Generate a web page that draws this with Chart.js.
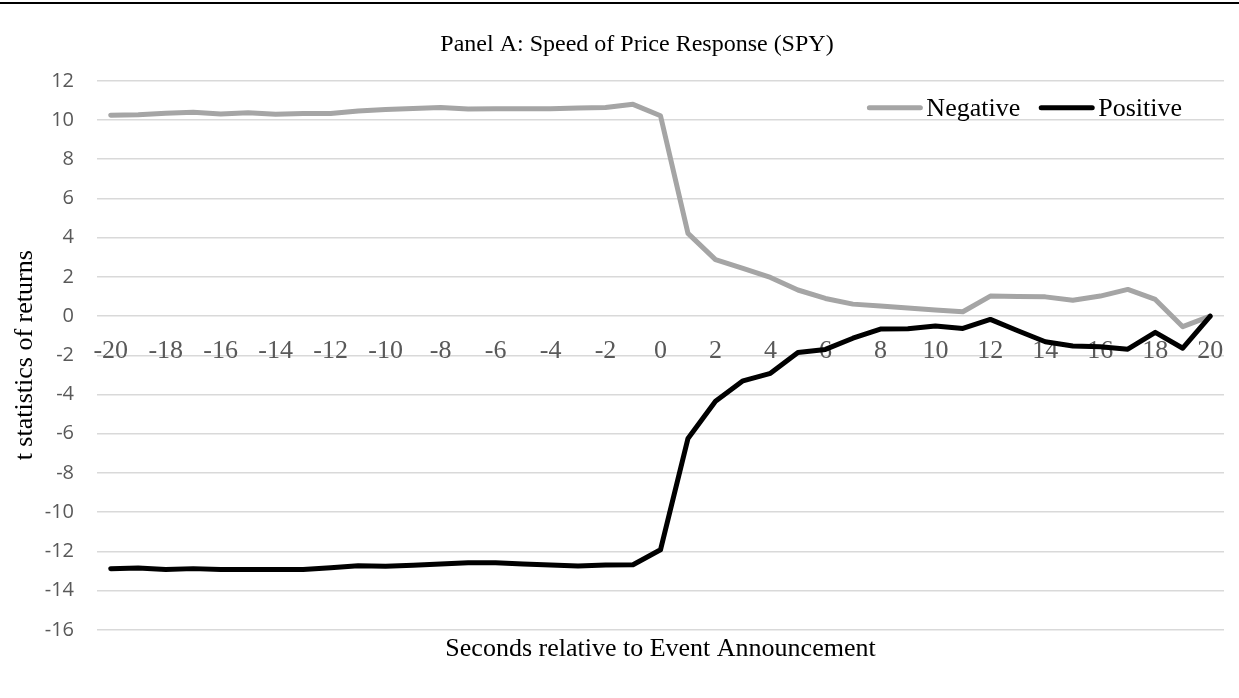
<!DOCTYPE html>
<html>
<head>
<meta charset="utf-8">
<title>Panel A: Speed of Price Response (SPY)</title>
<script src="https://cdn.jsdelivr.net/npm/chart.js@4/dist/chart.umd.min.js"></script>
<style>
    html, body { margin: 0; padding: 0; background: #ffffff; }
    #wrap { position: relative; width: 1239px; height: 698px; }
    #topRule { position: absolute; left: 0; top: 2px; width: 1239px; height: 0; border-top: 2px solid #000; }
</style>
</head>
<body>
<div id="wrap">
    <canvas id="speedChart" width="1239" height="698"></canvas>
    <div id="topRule"></div>
</div>

<script>
// -------------------------
// Data
// -------------------------
const seconds = [
    -20, -19, -18, -17, -16, -15, -14, -13, -12, -11,
    -10, -9, -8, -7, -6, -5, -4, -3, -2, -1,
    0, 1, 2, 3, 4, 5, 6, 7, 8, 9,
    10, 11, 12, 13, 14, 15, 16, 17, 18, 19, 20
];

const negativeT = [
    10.24, 10.27, 10.34, 10.39, 10.31, 10.37, 10.29, 10.33, 10.33, 10.46,
    10.54, 10.59, 10.64, 10.56, 10.58, 10.58, 10.58, 10.61, 10.64, 10.80,
    10.22, 4.22, 2.88, 2.43, 1.97, 1.33, 0.90, 0.61, 0.51, 0.41,
    0.31, 0.22, 1.02, 1.00, 0.98, 0.81, 1.02, 1.36, 0.85, -0.54, 0.00
];

const positiveT = [
    -12.88, -12.85, -12.92, -12.88, -12.93, -12.93, -12.92, -12.93, -12.83, -12.73,
    -12.76, -12.71, -12.64, -12.58, -12.58, -12.64, -12.69, -12.75, -12.69, -12.68,
    -11.92, -6.24, -4.34, -3.30, -2.92, -1.86, -1.70, -1.13, -0.66, -0.65,
    -0.50, -0.63, -0.17, -0.75, -1.31, -1.53, -1.56, -1.69, -0.83, -1.64, 0.00
];

const yTicks = { min: -16, max: 12, step: 2 };

const serif = "'Liberation Serif', 'Times New Roman', serif";
const sans = "'Open Sans', 'Noto Sans', sans-serif";

// -------------------------
// Legend drawn inside plot area (top right)
// -------------------------
const insideLegend = {
    id: "insideLegend",
    afterLayout(chart) {
        // nudge the chart title a little right, like the original layout
        const t = chart.titleBlock;
        if (t) {
            t.left += 50;
        }
    },
    afterDraw(chart) {
        const ctx = chart.ctx;
        const area = chart.chartArea;
        const sets = chart.data.datasets;
        const lineLen = 55;
        const textGap = 4;
        const itemGap = 19;

        ctx.save();
        ctx.font = "26px " + serif;
        ctx.textBaseline = "middle";

        let total = 0;
        sets.forEach((ds, i) => {
            total += lineLen + textGap + ctx.measureText(ds.label).width;
            if (i < sets.length - 1) total += itemGap;
        });

        let x = area.right - 42 - total;
        const y = area.top + 27;

        sets.forEach(ds => {
            ctx.strokeStyle = ds.borderColor;
            ctx.lineWidth = 5;
            ctx.lineCap = "round";
            ctx.beginPath();
            ctx.moveTo(x + 2, y);
            ctx.lineTo(x + lineLen - 2, y);
            ctx.stroke();

            x += lineLen + textGap;
            ctx.fillStyle = "#000000";
            ctx.fillText(ds.label, x, y + 1);
            x += ctx.measureText(ds.label).width + itemGap;
        });

        ctx.restore();
    }
};

// -------------------------
// Chart
// -------------------------
const canvas = document.getElementById("speedChart");

new Chart(canvas, {
    type: "line",
    data: {
        labels: seconds,
        datasets: [
            {
                label: "Negative",
                data: negativeT,
                borderColor: "#a5a5a5",
                backgroundColor: "#a5a5a5",
                borderWidth: 5,
                pointRadius: 0,
                tension: 0,
                borderJoinStyle: "round",
                borderCapStyle: "round",
                order: 1
            },
            {
                label: "Positive",
                data: positiveT,
                borderColor: "#000000",
                backgroundColor: "#000000",
                borderWidth: 5,
                pointRadius: 0,
                tension: 0,
                borderJoinStyle: "round",
                borderCapStyle: "round",
                order: 0
            }
        ]
    },
    options: {
        responsive: false,
        animation: false,
        layout: {
            padding: { left: 0, right: 15, top: 0, bottom: 0 }
        },
        plugins: {
            legend: { display: false },
            tooltip: { enabled: false },
            title: {
                display: true,
                text: "Panel A: Speed of Price Response (SPY)",
                color: "#000000",
                font: { family: serif, size: 24, weight: "normal" },
                padding: { top: 30, bottom: 22 }
            },
            subtitle: {
                display: true,
                position: "bottom",
                fullSize: false,
                text: "Seconds relative to Event Announcement",
                color: "#000000",
                font: { family: serif, size: 26, weight: "normal" },
                padding: { top: 4, bottom: 33 }
            }
        },
        scales: {
            x: {
                type: "category",
                position: { y: 0 },
                offset: true,
                grid: { display: false, drawTicks: false },
                border: { display: false },
                ticks: {
                    autoSkip: false,
                    maxRotation: 0,
                    padding: 19,
                    color: "#595959",
                    font: { family: serif, size: 26 },
                    callback: function (value, index) {
                        const s = seconds[index];
                        return s % 2 === 0 ? String(s) : "";
                    }
                },
                afterFit: function (scale) {
                    scale.paddingLeft = 0;
                    scale.paddingRight = 0;
                }
            },
            y: {
                min: yTicks.min,
                max: yTicks.max,
                grid: { color: "#d9d9d9", lineWidth: 1.5, drawTicks: false },
                border: { display: false },
                ticks: {
                    stepSize: yTicks.step,
                    padding: 23,
                    color: "#595959",
                    font: { family: sans, size: 20 }
                },
                title: {
                    display: true,
                    text: "t statistics of returns",
                    color: "#000000",
                    font: { family: serif, size: 26, weight: "normal" },
                    padding: { top: 10, bottom: 0 }
                },
                afterFit: function (scale) {
                    scale.width = 97;
                }
            }
        }
    },
    plugins: [insideLegend]
});
</script>
</body>
</html>
